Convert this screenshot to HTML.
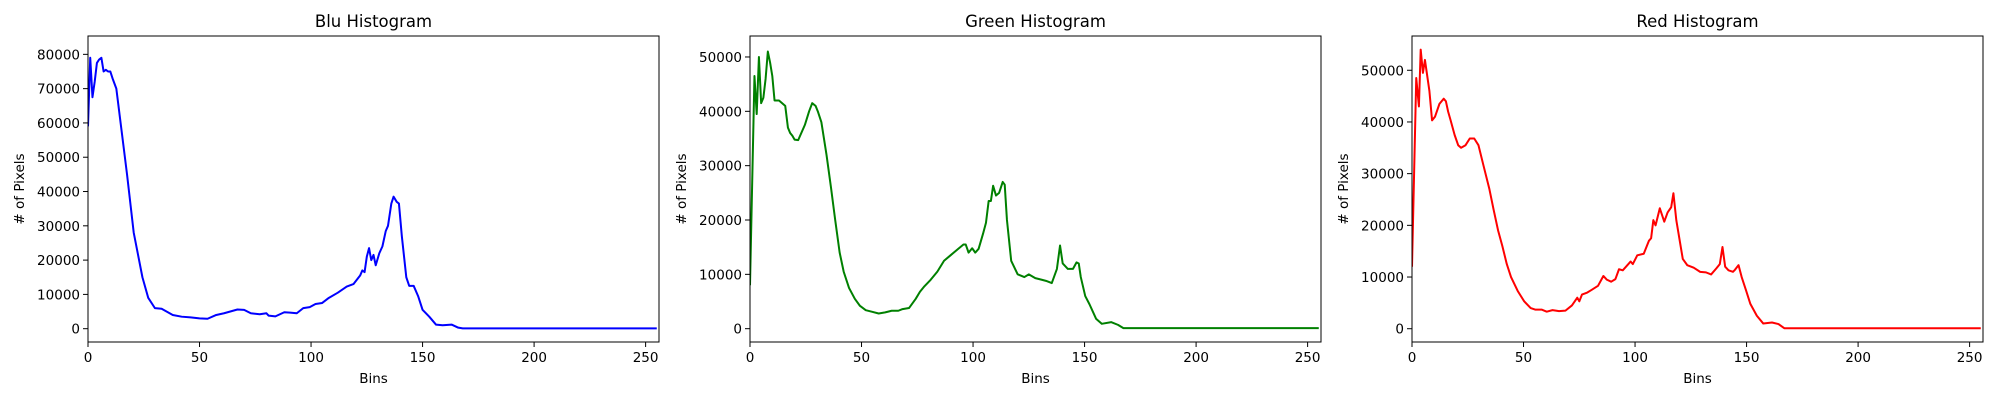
<!DOCTYPE html>
<html><head><meta charset="utf-8">
<style>
html,body{margin:0;padding:0;background:#fff;}
svg{display:block;font-family:"DejaVu Sans","Liberation Sans",sans-serif;}
</style></head>
<body>
<svg id="fig" width="2000" height="400" viewBox="0 0 2000 400" xmlns="http://www.w3.org/2000/svg"></svg>
<script>
const blueBins = [0,1,2,3,4,5,6,7,8,9,10,11,12.7,15,17.5,20.5,24.4,27,30,33,38,42,46,50,53.6,57.5,61,67,70,73,77,80,81,84,88,90.6,93.6,96.5,99.4,102,105,108,112,116,119,122,123,124,125,126,127,128,129,130.6,132,133.5,134.5,136,137,138.4,139.4,140.7,142.7,144,146,148,150,153,156,159,163,166,168,255];
const blueValues = [59000,79000,67500,72000,77500,78500,79000,75000,75500,75000,75000,73000,70000,58000,45000,28000,15000,9000,6000,5800,4000,3500,3300,3000,2900,4000,4500,5600,5500,4500,4200,4500,3800,3600,4800,4700,4500,6000,6300,7200,7500,9000,10500,12300,13000,15500,17000,16500,21000,23500,20000,21500,18500,22000,24000,28500,30000,36500,38500,37000,36500,27000,15000,12500,12500,9500,5500,3500,1200,1000,1200,300,100,100];
const greenBins = [0,2,3,4,5,6,7,8,9,10,11,13,15.8,17,18,19,20,21.6,24.6,26.5,27.9,29.4,30.4,32,34.3,36.3,38.2,40.2,42,44.4,47,49.3,51.9,54.8,57.7,60.6,63.5,66.5,68.4,71.3,74.3,76.2,78.2,81,84,87,89.9,92.8,95.7,96.7,98,99.6,101,102.5,104.5,105.8,107,108,109,110.3,111.7,113.3,114.2,115.2,117.1,120,123,125,127.9,130.8,132.7,135.3,137.6,139,140.2,142.5,144.8,146.4,147.4,148.3,150.3,152.2,155.2,157.7,162,165,167.4,255];
const greenValues = [8000,46500,39500,50000,41500,42500,46000,51000,49000,46500,42000,42000,41000,37000,36000,35500,34800,34700,37500,40000,41500,41000,40000,38000,32000,26000,20000,14000,10500,7500,5500,4200,3400,3100,2800,3000,3300,3300,3600,3800,5500,6800,7800,9000,10500,12500,13500,14500,15500,15500,14000,14800,14000,14700,17500,19500,23500,23500,26300,24500,25000,27000,26500,20000,12500,10000,9500,10000,9300,9000,8800,8400,11000,15300,12000,11000,11000,12200,12000,9500,6000,4500,1800,900,1200,700,100,100];
const redBins = [0,1.9,3.1,3.9,4.9,5.8,7.8,9,10.3,12.3,14.2,15.2,16.2,17.2,19.1,20.7,22,24,25.9,27.9,29.8,31.8,34.7,36.6,38.6,40.5,42.5,44.4,47.4,50.3,53.2,55.2,58.1,60.4,63,65.9,68.8,71.7,74.1,75,76.2,78.6,80.5,83.4,85.8,87.3,89.3,91.2,92.8,94.5,97,98,99,101,103.9,106.2,107.2,108.2,109.2,111.1,113.1,114.6,116.2,117.2,118.5,121.4,123.4,126.3,129.2,131.8,134.1,136.5,138,139.2,140.4,141.9,143.9,144.8,146.4,147.8,149.7,151.7,154.6,157.5,161.4,164.3,166.9,255];
const redValues = [12000,48500,43000,54000,49500,52000,46000,40300,41000,43500,44500,44000,42000,40500,37500,35500,35000,35500,36800,36800,35500,32000,27000,23000,19000,16000,12500,10000,7300,5300,4000,3700,3700,3300,3600,3400,3500,4500,6000,5300,6600,7000,7500,8300,10200,9500,9100,9600,11500,11300,12500,13000,12500,14200,14500,17000,17500,21000,20000,23300,20700,22500,23500,26200,21000,13500,12300,11800,11000,10900,10500,11700,12500,15800,12000,11300,11000,11400,12300,10000,7500,4800,2500,1000,1200,900,100,100];
const xTicks = [0,50,100,150,200,250];
const blueYTicks = [0,10000,20000,30000,40000,50000,60000,70000,80000];
const greenYTicks = [0,10000,20000,30000,40000,50000];
const redYTicks = [0,10000,20000,30000,40000,50000];

const NS = "http://www.w3.org/2000/svg";
const fig = document.getElementById('fig');
function mk(tag, attrs, parent){
  const e = document.createElementNS(NS, tag);
  for (const k in attrs) e.setAttribute(k, attrs[k]);
  parent.appendChild(e);
  return e;
}
const panels = [
  {title:'Blu Histogram', left:88, right:659, bins:blueBins, vals:blueValues, yt:blueYTicks, ymin:-3880, ymax:85350, color:'#0000ff', key:'blue'},
  {title:'Green Histogram', left:750, right:1321, bins:greenBins, vals:greenValues, yt:greenYTicks, ymin:-2450, ymax:53860, color:'#008000', key:'green'},
  {title:'Red Histogram', left:1412, right:1983, bins:redBins, vals:redValues, yt:redYTicks, ymin:-2570, ymax:56630, color:'#ff0000', key:'red'}
];
const plotTop = 36, plotBottom = 342;
panels.forEach(p => {
  const g = mk('g', {}, fig);
  
  
  const xs = v => p.left + v / 256 * (p.right - p.left);
  const ys = v => plotBottom - (v - p.ymin) / (p.ymax - p.ymin) * (plotBottom - plotTop);
  const pts = p.bins.map((b,i) => xs(b).toFixed(2) + ',' + ys(p.vals[i]).toFixed(2)).join(' ');
  const clipId = 'clip-' + p.key;
  const cp = mk('clipPath', {id: clipId}, g);
  mk('rect', {x:p.left, y:plotTop, width:p.right-p.left, height:plotBottom-plotTop}, cp);
  const line = mk('polyline', {points:pts, fill:'none', stroke:p.color, 'stroke-width':2, 'stroke-linejoin':'round', 'clip-path':'url(#'+clipId+')'}, g);
  
  
  const fr = mk('rect', {x:p.left, y:plotTop, width:p.right-p.left, height:plotBottom-plotTop, fill:'none', stroke:'#000', 'stroke-width':1}, g);
  
  
  xTicks.forEach(t => {
    const x = xs(t);
    mk('line', {x1:x, y1:plotBottom, x2:x, y2:plotBottom+5, stroke:'#000', 'stroke-width':1}, g);
    const tx = mk('text', {x:x, y:plotBottom+20, 'font-size':13.5, 'text-anchor':'middle', fill:'#000'}, g);
    tx.textContent = t;
    
    
  });
  p.yt.forEach(t => {
    const y = ys(t);
    mk('line', {x1:p.left-5, y1:y, x2:p.left, y2:y, stroke:'#000', 'stroke-width':1}, g);
    const tx = mk('text', {x:p.left-8, y:y+5, 'font-size':13.5, 'text-anchor':'end', fill:'#000'}, g);
    tx.textContent = t;
    
    
  });
  const cx = (p.left + p.right) / 2;
  const title = mk('text', {x:cx, y:27, 'font-size':16.5, 'text-anchor':'middle', fill:'#000'}, g);
  title.textContent = p.title;
  
  
  const xl = mk('text', {x:cx, y:383, 'font-size':13.5, 'text-anchor':'middle', fill:'#000'}, g);
  xl.textContent = 'Bins';
  
  
  const yx = p.left - 64, yy = (plotTop + plotBottom) / 2;
  const yl = mk('text', {x:yx, y:yy, 'font-size':13.5, 'text-anchor':'middle', fill:'#000', transform:'rotate(-90 '+yx+' '+yy+')'}, g);
  yl.textContent = '# of Pixels';
  
  
});
</script>
</body></html>
